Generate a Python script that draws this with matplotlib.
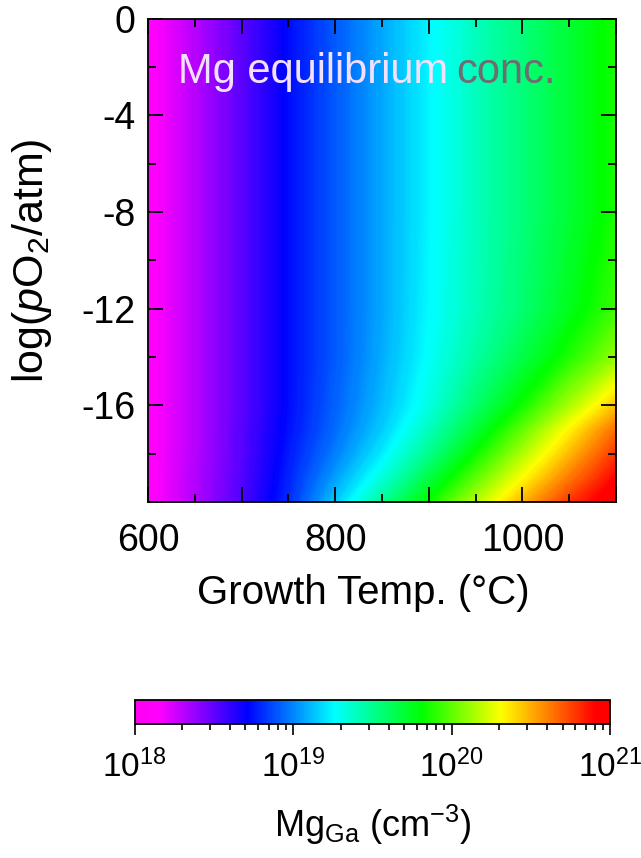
import numpy as np
import matplotlib
matplotlib.use("Agg")
import matplotlib.pyplot as plt
from matplotlib.colors import LinearSegmentedColormap, LogNorm
from matplotlib.cm import ScalarMappable

plt.rcParams["font.family"] = ["Liberation Sans", "DejaVu Sans"]
plt.rcParams["mathtext.fontset"] = "custom"
plt.rcParams["mathtext.rm"] = "Liberation Sans"
plt.rcParams["mathtext.it"] = "Liberation Sans:italic"
plt.rcParams["mathtext.default"] = "regular"

# growth temperature (C) and log(pO2/atm) grid
temps = [600, 650, 700, 750, 800, 850, 900, 950, 1000, 1050, 1100]
log_po2 = [0, -8, -12, -14, -16, -17, -18, -19, -20]

# log10 of Mg_Ga concentration (cm^-3), one row per pO2 level
log_mg = [
    [18.12, 18.31, 18.51, 18.73, 18.90, 19.07, 19.24, 19.40, 19.55, 19.70, 19.86],
    [18.12, 18.31, 18.51, 18.73, 18.90, 19.07, 19.24, 19.40, 19.55, 19.70, 19.86],
    [18.12, 18.31, 18.51, 18.73, 18.90, 19.07, 19.25, 19.41, 19.57, 19.75, 19.93],
    [18.12, 18.31, 18.51, 18.73, 18.90, 19.08, 19.27, 19.46, 19.66, 19.87, 20.10],
    [18.12, 18.31, 18.51, 18.73, 18.92, 19.11, 19.32, 19.58, 19.84, 20.14, 20.45],
    [18.12, 18.31, 18.52, 18.74, 18.94, 19.15, 19.40, 19.69, 20.00, 20.33, 20.65],
    [18.12, 18.31, 18.52, 18.76, 18.98, 19.22, 19.51, 19.83, 20.15, 20.47, 20.78],
    [18.12, 18.32, 18.53, 18.78, 19.05, 19.33, 19.66, 19.99, 20.31, 20.62, 20.90],
    [18.12, 18.32, 18.54, 18.80, 19.14, 19.49, 19.83, 20.16, 20.49, 20.78, 21.00],
]

cmap = LinearSegmentedColormap.from_list(
    "mg_rainbow",
    [(0.0, "#ff00f0"), (0.05, "#ff00ff"), (0.236, "#0000ff"), (0.42, "#00ffff"),
     (0.605, "#00ff00"), (0.772, "#ffff00"), (0.97, "#ff0000"), (1.0, "#ff0000")],
)

fig = plt.figure(figsize=(6.41, 8.58), dpi=100)
ax = fig.add_axes([0.231, 0.415, 0.730, 0.563])

ax.contourf(temps, log_po2, np.array(log_mg), levels=np.linspace(18, 21, 301),
            cmap=cmap, vmin=18, vmax=21)
ax.set_xlim(600, 1100)
ax.set_ylim(-20, 0)

ax.set_xticks([600, 700, 800, 900, 1000, 1100])
ax.set_xticklabels(["600", "", "800", "", "1000", ""])
ax.set_xticks(np.arange(650, 1100, 100), minor=True)
ax.set_yticks([0, -4, -8, -12, -16, -20])
ax.set_yticklabels(["0", "-4", "-8", "-12", "-16", ""])
ax.set_yticks(np.arange(-18, 0, 4), minor=True)
ax.tick_params(which="both", direction="in", top=True, right=True,
               labelsize=27, width=1.3, pad=9)
ax.tick_params(axis="x", which="both", pad=15)
ax.tick_params(which="major", length=11)
ax.tick_params(which="minor", length=6)
for s in ax.spines.values():
    s.set_linewidth(1.3)

ax.set_xlabel("Growth Temp. (°C)", fontsize=29)
ax.xaxis.set_label_coords(0.46, -0.15)
ax.set_ylabel(r"log($\mathit{p}$O$_2$/atm)", fontsize=31)
ax.yaxis.set_label_coords(-0.20, 0.5)

t1 = ax.text(632, -2.2, "Mg equilibrium", color="#f3e0ff", fontsize=30,
             va="center", ha="left")
ax.annotate("conc.", xy=(1, 0), xycoords=t1, xytext=(6, 0),
            textcoords="offset points", color="#6e6e6e", fontsize=30,
            va="bottom", ha="left")

cax = fig.add_axes([0.210, 0.156, 0.742, 0.028])
sm = ScalarMappable(norm=LogNorm(1e18, 1e21), cmap=cmap)
cb = fig.colorbar(sm, cax=cax, orientation="horizontal")
cb.outline.set_linewidth(1.3)
cax.tick_params(which="both", labelsize=24, width=1.2, pad=10)
cax.tick_params(which="major", length=8)
cax.tick_params(which="minor", length=4)
cb.set_label(r"Mg$_{Ga}$ (cm$^{-3}$)", fontsize=26, labelpad=14)

fig.savefig("out.png", dpi=100)
